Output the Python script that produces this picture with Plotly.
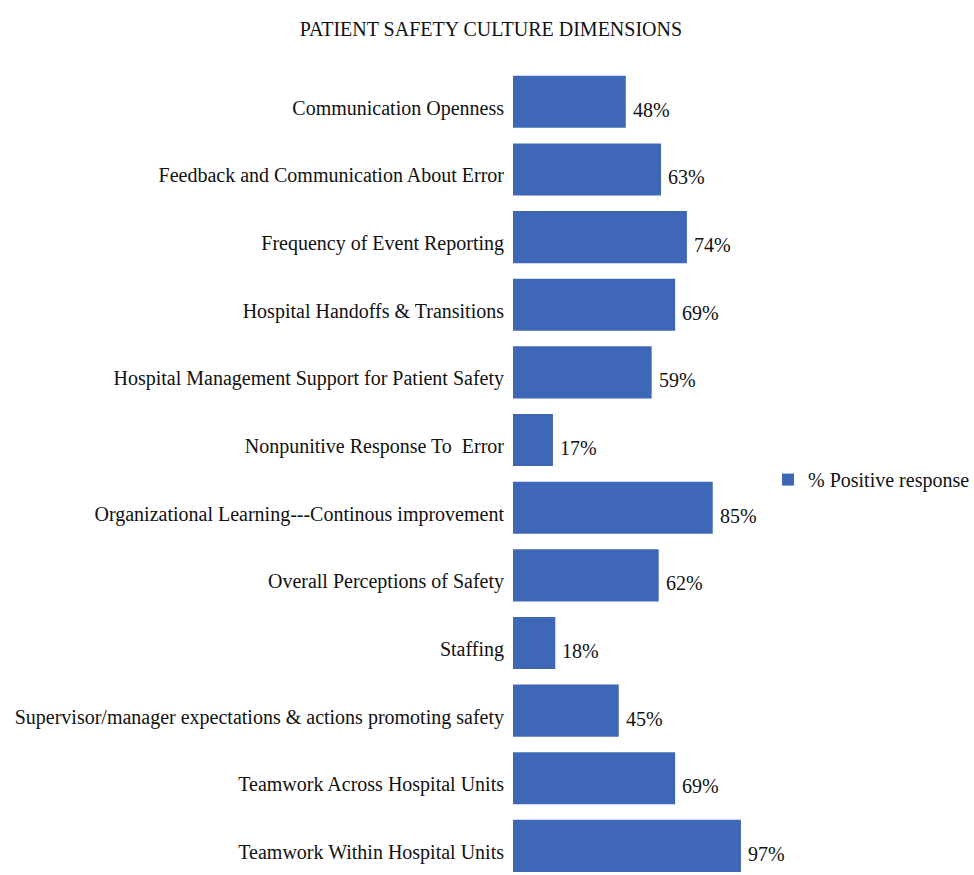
import plotly.graph_objects as go

categories = [
    "Communication Openness",
    "Feedback and Communication About Error",
    "Frequency of Event Reporting",
    "Hospital Handoffs & Transitions",
    "Hospital Management Support for Patient Safety",
    "Nonpunitive Response To  Error",
    "Organizational Learning---Continous improvement",
    "Overall Perceptions of Safety",
    "Staffing",
    "Supervisor/manager expectations & actions promoting safety",
    "Teamwork Across Hospital Units",
    "Teamwork Within Hospital Units",
]
values = [48, 63, 74, 69, 59, 17, 85, 62, 18, 45, 69, 97]
series_name = "% Positive response"
title_text = "PATIENT SAFETY CULTURE DIMENSIONS"

FONT = "Liberation Serif, Times New Roman, serif"
BAR_COLOR = "#3F67B7"

fig = go.Figure()
fig.add_trace(go.Bar(
    x=values, y=categories, orientation="h",
    marker=dict(color=BAR_COLOR, line=dict(width=0)),
    name=series_name, showlegend=True,
))

for c, v in zip(categories, values):
    fig.add_annotation(
        x=v, y=c, xref="x", yref="y", text=f"{v}%",
        showarrow=False, xanchor="left", yanchor="middle",
        xshift=5, yshift=-8,
        font=dict(family=FONT, size=20, color="#111111"),
    )

fig.update_layout(
    width=974, height=875,
    margin=dict(l=513, r=226, t=68, b=0, autoexpand=False),
    paper_bgcolor="white", plot_bgcolor="white",
    font=dict(family=FONT, size=20, color="#111111"),
    title=dict(text=title_text, x=0.504, xref="container", xanchor="center",
               y=1 - 29 / 875, yref="container", yanchor="middle",
               font=dict(family=FONT, size=20, color="#111111")),
    bargap=0.23,
    showlegend=True,
    legend=dict(x=1.085, xanchor="left", y=0.49, yanchor="middle",
                font=dict(family=FONT, size=20, color="#111111"),
                bgcolor="rgba(0,0,0,0)"),
    xaxis=dict(range=[0, 100], visible=False, showgrid=False, zeroline=False),
    yaxis=dict(range=[11.43, -0.5], showgrid=False, zeroline=False,
               showline=False, ticks="", ticklabelstandoff=8,
               ticklabelshift=-6,
               tickfont=dict(family=FONT, size=20, color="#111111")),
)

fig.write_html("out.html")
